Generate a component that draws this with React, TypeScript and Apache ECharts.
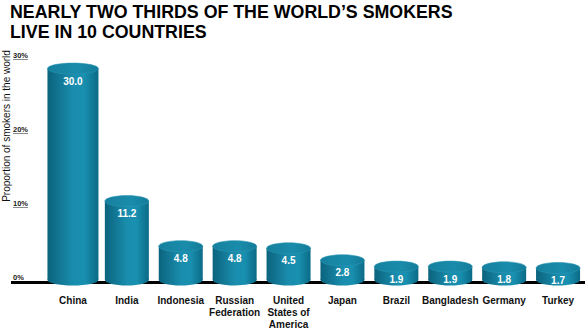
import React, { useEffect, useRef } from "react";
import * as echarts from "echarts";

const categories = [
  "China",
  "India",
  "Indonesia",
  "Russian\nFederation",
  "United\nStates of\nAmerica",
  "Japan",
  "Brazil",
  "Bangladesh",
  "Germany",
  "Turkey",
];
const shares = [30.0, 11.2, 4.8, 4.8, 4.5, 2.8, 1.9, 1.9, 1.8, 1.7];
const tickValues = [0, 10, 20, 30];

const FONT = "'Liberation Sans', Arial, Helvetica, sans-serif";
const BAR_GRID_BOTTOM = 47.5;
const H = 330;

export default function App() {
  const ref = useRef<HTMLDivElement>(null);
  useEffect(() => {
    document.body.style.margin = "0";
    if (!ref.current) return;
    const chart = echarts.init(ref.current, null, { renderer: "svg" });
    const bodyFill = () =>
      new echarts.graphic.LinearGradient(0, 0, 1, 0, [
        { offset: 0, color: "#0b637d" },
        { offset: 0.5, color: "#1a8dad" },
        { offset: 0.72, color: "#1990b0" },
        { offset: 1, color: "#0b6a86" },
      ]);
    const topFill = () =>
      new echarts.graphic.LinearGradient(0, 0, 1, 0, [
        { offset: 0, color: "#15809e" },
        { offset: 0.6, color: "#1a8cab" },
        { offset: 1, color: "#137c99" },
      ]);
    const axisY = H - BAR_GRID_BOTTOM;
    chart.setOption({
      animation: false,
      title: {
        text: "NEARLY TWO THIRDS OF THE WORLD\u2019S SMOKERS\nLIVE IN 10 COUNTRIES",
        left: 10,
        top: 2.5,
        padding: 0,
        textStyle: {
          fontFamily: FONT,
          fontSize: 17.8,
          fontWeight: "bold",
          lineHeight: 19.5,
          color: "#000",
        },
      },
      grid: [
        { left: 46, right: -1, top: 68.6, bottom: BAR_GRID_BOTTOM },
        { left: 28, right: 0, top: 59, bottom: H - 281 },
      ],
      xAxis: [
        {
          type: "category",
          gridIndex: 0,
          data: categories,
          axisLine: { show: false },
          axisTick: { show: false },
          axisLabel: {
            interval: 0,
            margin: 14,
            fontFamily: FONT,
            fontSize: 10,
            fontWeight: "bold",
            lineHeight: 12,
            color: "#111",
            verticalAlign: "top",
          },
        },
        { type: "value", gridIndex: 1, show: false, min: 0, max: 1 },
      ],
      yAxis: [
        {
          type: "value",
          gridIndex: 0,
          min: 0,
          max: 30,
          show: false,
        },
        {
          type: "value",
          gridIndex: 1,
          min: 0,
          max: 30,
          interval: 10,
          axisLine: { show: false },
          splitLine: { show: false },
          axisTick: { show: true, length: 15, lineStyle: { color: "#8a8a8a", width: 1 } },
          axisLabel: {
            margin: 15,
            align: "left",
            verticalAlign: "bottom",
            fontFamily: FONT,
            fontSize: 7.5,
            fontWeight: "bold",
            color: "#222",
            formatter: (v: number) => `${v}%`,
            customValues: tickValues,
          },
        },
      ],
      graphic: [
        {
          type: "line",
          z: 1,
          shape: { x1: 11, y1: axisY, x2: 585, y2: axisY },
          style: { stroke: "#000", lineWidth: 3 },
        },
        {
          type: "text",
          x: 6,
          y: 126,
          rotation: Math.PI / 2,
          style: {
            text: "Proportion of smokers in the world",
            fontFamily: FONT,
            fontSize: 10,
            fill: "#111",
            align: "center",
            verticalAlign: "middle",
          },
        },
      ],
      series: [
        {
          type: "custom",
          xAxisIndex: 0,
          yAxisIndex: 0,
          z: 3,
          data: shares.map((v, i) => [i, v]),
          renderItem: (params: any, api: any) => {
            const idx = params.dataIndex;
            const v = api.value(1);
            const [cx, yTop] = api.coord([api.value(0), v]);
            const [, yBase] = api.coord([api.value(0), 0]);
            const w = idx === 0 ? 51 : 44;
            const rx = w / 2;
            const ry = 5.5;
            return {
              type: "group",
              children: [
                {
                  type: "ellipse",
                  shape: { cx, cy: yBase, rx, ry },
                  style: { fill: bodyFill() },
                },
                {
                  type: "rect",
                  shape: { x: cx - rx, y: yTop, width: w, height: yBase - yTop },
                  style: { fill: bodyFill() },
                },
                {
                  type: "ellipse",
                  shape: { cx, cy: yTop, rx, ry },
                  style: { fill: topFill(), stroke: "#2a96b3", lineWidth: 0.6 },
                },
                {
                  type: "text",
                  style: {
                    text: v.toFixed(1),
                    x: cx,
                    y: yTop + 12.5,
                    align: "center",
                    verticalAlign: "middle",
                    fontFamily: FONT,
                    fontSize: 10,
                    fontWeight: "bold",
                    fill: "#fff",
                  },
                },
              ],
            };
          },
        },
      ],
    });
    return () => chart.dispose();
  }, []);
  return <div ref={ref} style={{ width: 585, height: 330 }} />;
}
